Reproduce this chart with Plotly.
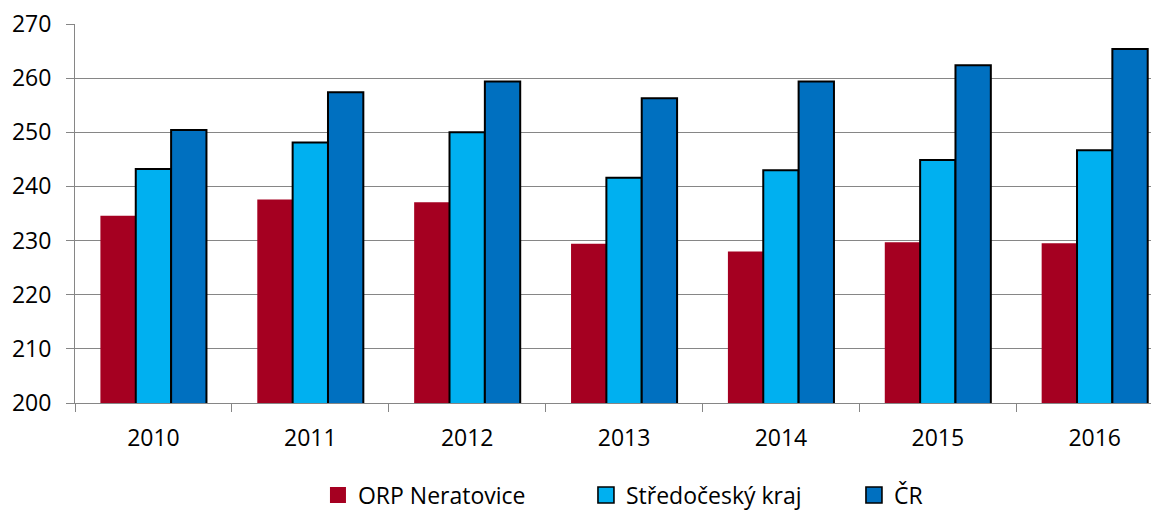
import plotly.graph_objects as go

years = ["2010", "2011", "2012", "2013", "2014", "2015", "2016"]
orp_neratovice = [234.6, 237.6, 237.1, 229.4, 228.0, 229.7, 229.5]
stredocesky_kraj = [243.2, 248.1, 250.0, 241.6, 243.0, 244.9, 246.7]
cr = [250.4, 257.4, 259.4, 256.3, 259.4, 262.4, 265.4]
y_ticks = [200, 210, 220, 230, 240, 250, 260, 270]
series_names = ["ORP Neratovice", "Středočeský kraj", "ČR"]

FONT = "Open Sans"
GRID = "#868686"
COLORS = ["#A50021", "#00B0F0", "#0070C0"]
EDGES = [0, 2, 2]

fig = go.Figure()
for name, vals, col, ew in zip(series_names, [orp_neratovice, stredocesky_kraj, cr], COLORS, EDGES):
    fig.add_trace(go.Bar(name=name, x=years, y=vals, showlegend=False,
                         marker=dict(color=col, line=dict(color="black", width=ew))))
# legend entries with larger square symbols
for name, col, ew in zip(series_names, COLORS, EDGES):
    fig.add_trace(go.Scatter(name=name, x=[None], y=[None], mode="markers",
                             marker=dict(symbol="square", size=16, color=col,
                                         line=dict(color="black", width=ew * 0.8))))

# page body has an 8px margin, so the figure is 8px smaller and margins shifted
fig.update_layout(
    width=1151, height=503,
    margin=dict(l=67, r=0, t=16, b=108),
    paper_bgcolor="white", plot_bgcolor="white",
    barmode="group", bargap=0.324, bargroupgap=0,
    font=dict(family=FONT, size=23, color="black"),
    showlegend=True,
    legend=dict(orientation="h", xref="container", yref="container",
                x=0.2693, xanchor="left", y=0.0318, yanchor="middle",
                font=dict(family=FONT, size=23, color="black"), itemsizing="trace",
                entrywidthmode="pixels", entrywidth=223, traceorder="normal"),
    xaxis=dict(type="category", range=[-0.5, 6.41], showline=True, linecolor=GRID, linewidth=1,
               ticks="outside", tickson="boundaries", ticklen=8, tickcolor=GRID, tickwidth=1,
               showgrid=False, automargin=False, ticklabelstandoff=14,
               tickfont=dict(family=FONT, size=23)),
    yaxis=dict(range=[200, 270], tickvals=y_ticks, showline=True, linecolor=GRID, linewidth=1,
               ticks="outside", ticklen=8, tickcolor=GRID, tickwidth=1,
               showgrid=True, gridcolor=GRID, gridwidth=1, zeroline=False, automargin=False,
               ticklabeloverflow="allow", ticklabelstandoff=10,
               tickfont=dict(family=FONT, size=23)),
)

fig.write_html("out.html")
